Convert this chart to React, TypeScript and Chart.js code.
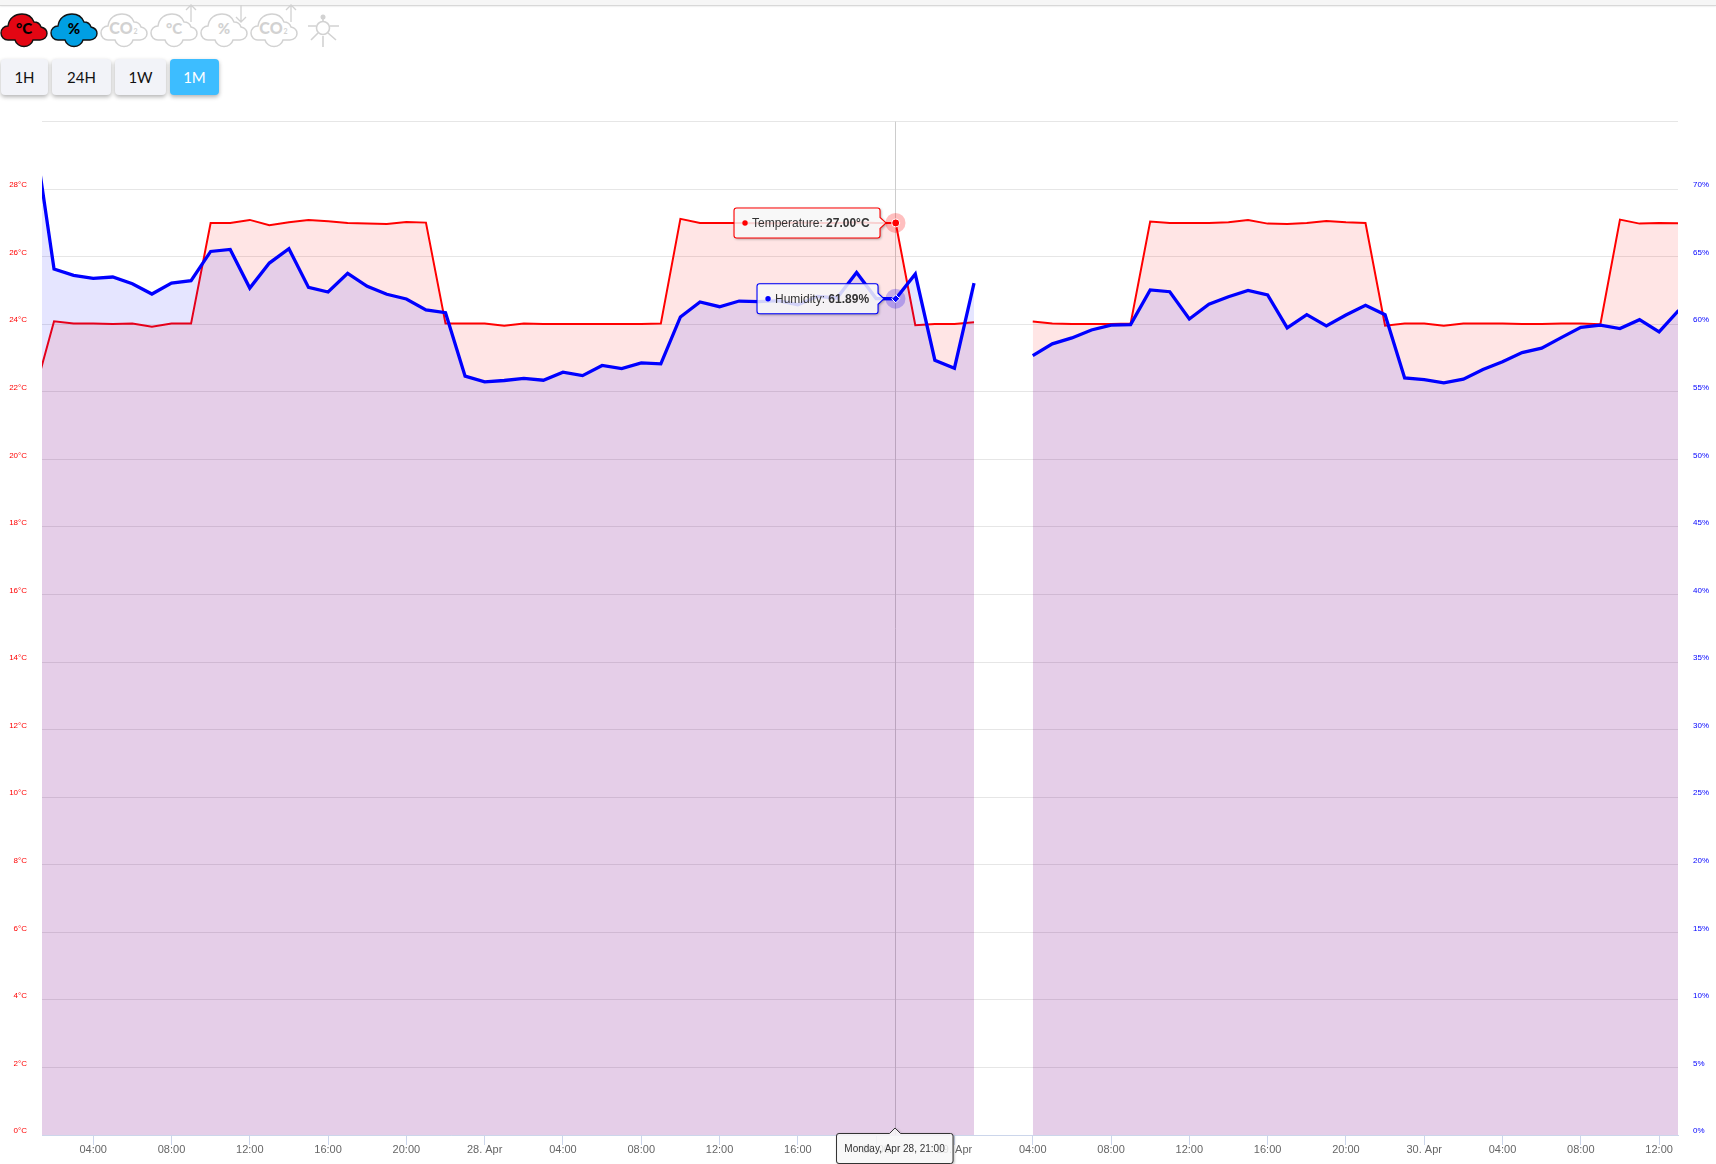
import React, { useEffect, useRef } from "react";
import { Chart, registerables } from "chart.js";

Chart.register(...registerables);

const firstHour = 1; // hours counted from 27 Apr 00:00
const temperature: (number | null)[] = [
  21.97, 24.09, 24.02, 24.02, 24.01, 24.02, 23.93, 24.02, 24.02, 27.0, 27.0, 27.09, 26.93, 27.02, 27.09, 27.05, 27.0,
  26.98, 26.97, 27.03, 27.01, 24.02, 24.02, 24.02, 23.96, 24.02, 24.01, 24.01, 24.01, 24.01, 24.01, 24.01, 24.02,
  27.12, 27.0, 27.0, 27.0, 26.99, 26.99, 27.01, 27.0, 27.0, 27.02, 27.0, 27.0, 23.97, 24.01, 24.01, 24.06, null, null,
  24.08, 24.02, 24.01, 24.01, 24.01, 24.02, 27.04, 27.0, 27.0, 27.0, 27.02, 27.09, 26.98, 26.97, 27.0, 27.06, 27.02,
  27.0, 23.96, 24.02, 24.02, 23.96, 24.02, 24.02, 24.02, 24.01, 24.01, 24.02, 24.02, 24.0, 27.1, 26.98, 27.0, 26.99,
];
const humidity: (number | null)[] = [
  74.0, 64.09, 63.62, 63.4, 63.5, 63.0, 62.24, 63.05, 63.23, 65.39, 65.54, 62.68, 64.53, 65.59, 62.73, 62.39, 63.77,
  62.81, 62.22, 61.87, 61.06, 60.86, 56.16, 55.74, 55.84, 55.99, 55.86, 56.45, 56.2, 56.95, 56.72, 57.14, 57.07,
  60.54, 61.65, 61.3, 61.72, 61.67, 61.75, 61.45, 62.07, 61.95, 63.84, 61.9, 61.89, 63.72, 57.34, 56.75, 63.05, null,
  null, 57.68, 58.55, 58.99, 59.58, 59.93, 59.98, 62.54, 62.41, 60.39, 61.48, 62.04, 62.51, 62.17, 59.73, 60.71,
  59.88, 60.69, 61.4, 60.71, 56.03, 55.91, 55.67, 55.94, 56.65, 57.22, 57.91, 58.23, 59.01, 59.78, 59.93, 59.68,
  60.34, 59.43, 61.03,
];
const tickHours = [4, 8, 12, 16, 20, 24, 28, 32, 36, 40, 44, 48, 52, 56, 60, 64, 68, 72, 76, 80, 84];
const tickLabels = [
  "04:00", "08:00", "12:00", "16:00", "20:00", "28. Apr", "04:00", "08:00", "12:00", "16:00", "20:00", "29. Apr",
  "04:00", "08:00", "12:00", "16:00", "20:00", "30. Apr", "04:00", "08:00", "12:00",
];
const hoverHour = 45;
const hoverDate = "Monday, Apr 28, 21:00";
const rangeButtons = ["1H", "24H", "1W", "1M"];

const FONT = "'Liberation Sans', Arial, sans-serif";
const RED = "#ff0000";
const BLUE = "#0000ff";

function roundedPath(ctx: CanvasRenderingContext2D, pts: number[][], r: number) {
  ctx.beginPath();
  ctx.moveTo((pts[0][0] + pts[1][0]) / 2, (pts[0][1] + pts[1][1]) / 2);
  for (let i = 1; i <= pts.length; i++) {
    const p = pts[i % pts.length];
    const n = pts[(i + 1) % pts.length];
    ctx.arcTo(p[0], p[1], n[0], n[1], (p as any)[2] === 0 ? 0 : r);
  }
  ctx.closePath();
}

function paintBox(ctx: CanvasRenderingContext2D, pts: number[][], stroke: string, lw: number) {
  // shadow only outside the box, so the see-through fill stays clean
  ctx.save();
  roundedPath(ctx, pts, 2.5);
  ctx.rect(0, 0, ctx.canvas.width, ctx.canvas.height);
  ctx.clip("evenodd");
  ctx.shadowColor = "rgba(0,0,0,0.4)";
  ctx.shadowBlur = 3;
  ctx.shadowOffsetX = 1;
  ctx.shadowOffsetY = 1;
  roundedPath(ctx, pts, 2.5);
  ctx.fillStyle = "#000";
  ctx.fill();
  ctx.restore();
  roundedPath(ctx, pts, 2.5);
  ctx.fillStyle = "rgba(247,247,247,0.85)";
  ctx.fill();
  roundedPath(ctx, pts, 2.5);
  ctx.strokeStyle = stroke;
  ctx.lineWidth = lw;
  ctx.stroke();
}

function seriesTip(
  ctx: CanvasRenderingContext2D,
  left: number,
  right: number,
  cy: number,
  color: string,
  name: string,
  value: string,
  dotX: number,
  textX: number
) {
  const top = cy - 15;
  const bot = cy + 15;
  const a: any = (x: number, y: number) => {
    const p: any = [x, y];
    p[2] = 0;
    return p;
  };
  paintBox(
    ctx,
    [[left, top], [right, top], a(right, cy - 5.5), a(right + 6, cy), a(right, cy + 5.5), [right, bot], [left, bot]],
    color,
    1.1
  );
  ctx.fillStyle = color;
  ctx.beginPath();
  ctx.arc(dotX, cy, 2.7, 0, Math.PI * 2);
  ctx.fill();
  ctx.textBaseline = "middle";
  ctx.textAlign = "left";
  ctx.fillStyle = "#333333";
  ctx.font = `12px ${FONT}`;
  const t = `${name}: `;
  ctx.fillText(t, textX, cy + 0.5);
  const w = ctx.measureText(t).width;
  ctx.font = `bold 12px ${FONT}`;
  ctx.fillText(value, textX + w, cy + 0.5);
}

const overlay = {
  id: "overlay",
  beforeDatasetsDraw(chart: any) {
    const { ctx, chartArea, scales } = chart;
    const x = Math.floor(scales.x.getPixelForValue(hoverHour)) + 0.5;
    ctx.save();
    ctx.strokeStyle = "#cccccc";
    ctx.lineWidth = 1;
    ctx.beginPath();
    ctx.moveTo(x, chartArea.top);
    ctx.lineTo(x, chartArea.bottom);
    ctx.stroke();
    const i = hoverHour - firstHour;
    ctx.fillStyle = "rgba(255,0,0,0.25)";
    ctx.beginPath();
    ctx.arc(x, scales.yT.getPixelForValue(temperature[i]), 10, 0, Math.PI * 2);
    ctx.fill();
    ctx.fillStyle = "rgba(0,0,255,0.25)";
    ctx.beginPath();
    ctx.arc(x, scales.yH.getPixelForValue(humidity[i]), 10, 0, Math.PI * 2);
    ctx.fill();
    ctx.restore();
  },
  afterDraw(chart: any) {
    const { ctx, chartArea, scales } = chart;
    const x = scales.x.getPixelForValue(hoverHour) - 0.7;
    const i = hoverHour - firstHour;
    ctx.save();
    seriesTip(
      ctx, x - 161, x - 15, scales.yT.getPixelForValue(temperature[i]),
      RED, "Temperature", `${(temperature[i] as number).toFixed(2)}°C`, x - 150, x - 143
    );
    seriesTip(
      ctx, x - 138, x - 17, scales.yH.getPixelForValue(humidity[i]),
      BLUE, "Humidity", `${(humidity[i] as number).toFixed(2)}%`, x - 127, x - 120
    );
    const t = chartArea.bottom - 1.5;
    const b = t + 30;
    const a: any = (px: number, py: number) => {
      const p: any = [px, py];
      p[2] = 0;
      return p;
    };
    paintBox(
      ctx,
      [[x - 58.5, t], a(x - 5.5, t), a(x, t - 5.5), a(x + 5.5, t), [x + 58, t], [x + 58, b], [x - 58.5, b]],
      "#333333",
      1
    );
    ctx.fillStyle = "#333333";
    ctx.font = `10px ${FONT}`;
    ctx.textAlign = "center";
    ctx.textBaseline = "middle";
    ctx.fillText(hoverDate, x - 0.5, t + 16);
    ctx.restore();
  },
};

const CLOUD =
  "M8 13 C9 5 15 1 22 1 C28 1 32 4 34 9 C37 9 40 11 41 14 C45 15 47 18 47 20.5 C47 24 44 27 40 27 L33 27 C32 31 28 33.5 24 33.5 C20 33.5 16 31 15 27 L8 27 C4 27 1 24 1 20 C1 16 4 13 8 13 Z";
const GREY = "#d2d2d2";

function Cloud({ x, label, fill, sub, arrow }: { x: number; label: string; fill?: string; sub?: string; arrow?: "up" | "down" }) {
  const on = !!fill;
  return (
    <g transform={`translate(${x},13)`}>
      <path d={CLOUD} fill={fill || "#ffffff"} stroke={on ? "#111" : GREY} strokeWidth={on ? 1.4 : 1.5} />
      <text x={sub ? 21 : 24} y={21} textAnchor="middle" fontFamily="Lato, sans-serif" fontWeight={900} fontSize={sub ? 16 : 15} fill={on ? "#000" : GREY}>
        {label}
      </text>
      {sub && (
        <text x={35.5} y={21} textAnchor="middle" fontFamily="Lato, sans-serif" fontWeight={700} fontSize={7} fill={GREY}>
          {sub}
        </text>
      )}
      {arrow === "up" && <path d="M41 9 V-8 M36 -3 L41 -8 L46 -3" fill="none" stroke={GREY} strokeWidth={1.3} />}
      {arrow === "down" && <path d="M41 9 V-8 M36 4 L41 9 L46 4" fill="none" stroke={GREY} strokeWidth={1.3} />}
    </g>
  );
}

function Icons() {
  return (
    <svg width={350} height={50} style={{ position: "absolute", left: 0, top: 0 }}>
      <Cloud x={0} label="°C" fill="#e30613" />
      <Cloud x={50} label="%" fill="#009fe3" />
      <Cloud x={100} label="CO" sub="2" />
      <Cloud x={150} label="°C" arrow="up" />
      <Cloud x={200} label="%" arrow="down" />
      <Cloud x={250} label="CO" sub="2" arrow="up" />
      <g fill="none" stroke={GREY} strokeWidth={1.6}>
        <circle cx={323} cy={28} r={6.5} />
        <path d="M308 26 H316 M330 26 H339 M311 40 L318 33 M328 33 L336 40 M323 36 V47 M323 21 V17" />
      </g>
      <circle cx={323} cy={17} r={2.5} fill={GREY} />
    </svg>
  );
}

const buttonBoxes = [
  { left: 1, width: 47 },
  { left: 52, width: 59 },
  { left: 115, width: 51 },
  { left: 170, width: 49 },
];

export default function App() {
  const ref = useRef<HTMLCanvasElement>(null);
  useEffect(() => {
    const chart = new Chart(ref.current as HTMLCanvasElement, {
      type: "line",
      data: {
        datasets: [
          {
            label: "Humidity",
            yAxisID: "yH",
            order: 0,
            data: humidity.map((y, i) => ({ x: firstHour + i, y })) as any,
            borderColor: BLUE,
            backgroundColor: "rgba(0,0,255,0.1)",
            borderWidth: 3.3,
            fill: "origin",
            tension: 0,
            clip: 0 as any,
            pointStyle: "rectRot",
            pointRadius: (c: any) => (c.raw && c.raw.x === hoverHour ? 4 : 0),
            pointBackgroundColor: BLUE,
            pointBorderColor: "#ffffff",
            pointBorderWidth: 1,
          },
          {
            label: "Temperature",
            yAxisID: "yT",
            order: 1,
            data: temperature.map((y, i) => ({ x: firstHour + i, y })) as any,
            borderColor: RED,
            backgroundColor: "rgba(255,0,0,0.1)",
            borderWidth: 2,
            fill: "origin",
            tension: 0,
            clip: 0 as any,
            pointRadius: (c: any) => (c.raw && c.raw.x === hoverHour ? 4 : 0),
            pointBackgroundColor: RED,
            pointBorderColor: "#ffffff",
            pointBorderWidth: 1,
          },
        ],
      },
      options: {
        responsive: false,
        animation: false,
        devicePixelRatio: 1,
        layout: { padding: { top: 121.6, left: 0, right: 0, bottom: 0 } },
        events: [],
        plugins: { legend: { display: false }, tooltip: { enabled: false } },
        scales: {
          x: {
            type: "linear",
            min: 1.385,
            max: 84.965,
            afterBuildTicks: (s: any) => {
              s.ticks = tickHours.map((value) => ({ value }));
            },
            afterFit: (s: any) => {
              s.height = 29;
            },
            border: { color: "#ccd6eb" },
            grid: { drawOnChartArea: false, drawTicks: true, tickLength: 10, tickColor: "#ccd6eb" },
            ticks: {
              autoSkip: false,
              maxRotation: 0,
              padding: -2,
              color: "#666666",
              font: { family: FONT, size: 11 },
              callback: (v: any) => tickLabels[tickHours.indexOf(v)],
            },
          },
          yT: {
            type: "linear",
            position: "left",
            min: 0,
            max: 30,
            afterFit: (s: any) => {
              s.width = 42;
            },
            border: { display: false },
            grid: { color: "#e6e6e6", drawTicks: false },
            ticks: {
              stepSize: 2,
              padding: 15,
              labelOffset: -4,
              color: RED,
              font: { family: FONT, size: 8 },
              callback: (v: any) => (v === 30 ? "" : `${v}°C`),
            },
          },
          yH: {
            type: "linear",
            position: "right",
            min: 0,
            max: 75,
            afterFit: (s: any) => {
              s.width = 38;
            },
            border: { display: false },
            grid: { display: false, drawTicks: false },
            ticks: {
              stepSize: 5,
              padding: 15,
              labelOffset: -4,
              color: BLUE,
              font: { family: FONT, size: 8 },
              callback: (v: any) => (v === 75 ? "" : `${v}%`),
            },
          },
        },
      },
      plugins: [overlay],
    } as any);
    return () => chart.destroy();
  }, []);

  return (
    <div style={{ position: "absolute", left: 0, top: 0, width: 1716, height: 1164, overflow: "hidden", background: "#fff" }}>
      <div
        style={{
          position: "absolute",
          left: 0,
          top: 0,
          width: 1716,
          height: 5,
          background: "#f6f6f6",
          borderBottom: "1px solid #d8d8d8",
          boxShadow: "0 0 2px rgba(0,0,0,0.2)",
        }}
      />
      <Icons />
      {rangeButtons.map((b, i) => (
        <div
          key={b}
          style={{
            position: "absolute",
            left: buttonBoxes[i].left,
            width: buttonBoxes[i].width,
            top: 59,
            height: 36,
            lineHeight: "36px",
            textAlign: "center",
            borderRadius: 4,
            fontFamily: "Lato, sans-serif",
            fontSize: 15,
            color: i === 3 ? "#ffffff" : "#111111",
            background: i === 3 ? "#3dbdff" : "#f2f3f8",
            boxShadow: "0 2px 4px rgba(0,0,0,0.3)",
          }}
        >
          {b}
        </div>
      ))}
      <canvas ref={ref} width={1716} height={1164} style={{ position: "absolute", left: 0, top: 0, display: "block" }} />
    </div>
  );
}
